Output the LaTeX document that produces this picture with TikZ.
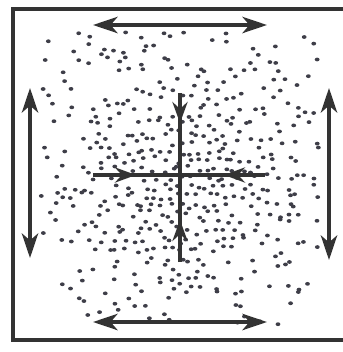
\documentclass[tikz,border=0pt]{standalone}
\usepackage{tikz}
\usetikzlibrary{arrows.meta,calc}
\definecolor{ink}{HTML}{333333}
\definecolor{speck}{HTML}{3E3E48}

\begin{document}
\begin{tikzpicture}[x=0.3mm, y=-0.3mm,
        frame/.style={ink, line width=2.8pt},
        flow/.style={ink, line width=2.9pt, {Stealth[length=21pt,width=14pt,inset=6pt]}-{Stealth[length=21pt,width=14pt,inset=6pt]}},
        axis/.style={ink, line width=2.7pt},
        inarrow/.style={ink, line width=2.7pt, -{Stealth[length=18pt,width=13pt,inset=6pt]}},
        dot/.style={fill=speck},
      ]
        \useasboundingbox (0,0) rectangle (343,352);

        % box, open on the right
        \draw[frame] (343,9) -- (13,9) -- (13,340) -- (343,340);

        % scattered particles on a jittered grid, thinning outwards
        \coordinate (mid) at (180,178);
        \pgfmathsetseed{4213}
        \foreach \gx in {-15,...,15}{
          \foreach \gy in {-16,...,16}{
            \pgfmathsetmacro{\dx}{\gx*9+3.8*rand}
            \pgfmathsetmacro{\dy}{\gy*9+3.8*rand}
            \pgfmathsetmacro{\keep}{rnd<exp(-((\dx/100)^2+(\dy/100)^2)/1.45)?1:0}
            \ifdim\keep pt>0.5pt
              \fill[dot] ($(mid)+(\dx,\dy)$) ellipse (2.4 and 1.9);
            \fi
          }
        }

        % outward arrows along the edges
        \coordinate (tl) at (93,25);  \coordinate (tr) at (267,25);
        \coordinate (bl) at (93,322); \coordinate (br) at (267,322);
        \coordinate (lt) at (30,88);  \coordinate (lb) at (30,258);
        \coordinate (rt) at (329,88); \coordinate (rb) at (329,260);
        \draw[flow] (tl) -- (tr);
        \draw[flow] (bl) -- (br);
        \draw[flow] (lt) -- (lb);
        \draw[flow] (rt) -- (rb);

        % cross with inward arrows
        \coordinate (w) at (93,175);  \coordinate (e) at (265,175);
        \coordinate (n) at (180,93);  \coordinate (s) at (180,262);
        \draw[axis] (w) -- (e);
        \draw[axis] (n) -- (s);
        \draw[inarrow] (w) -- (136,175);
        \draw[inarrow] (e) -- (224,175);
        \draw[inarrow] (n) -- (180,123);
        \draw[inarrow] (s) -- (180,220);
      \end{tikzpicture}
\end{document}
